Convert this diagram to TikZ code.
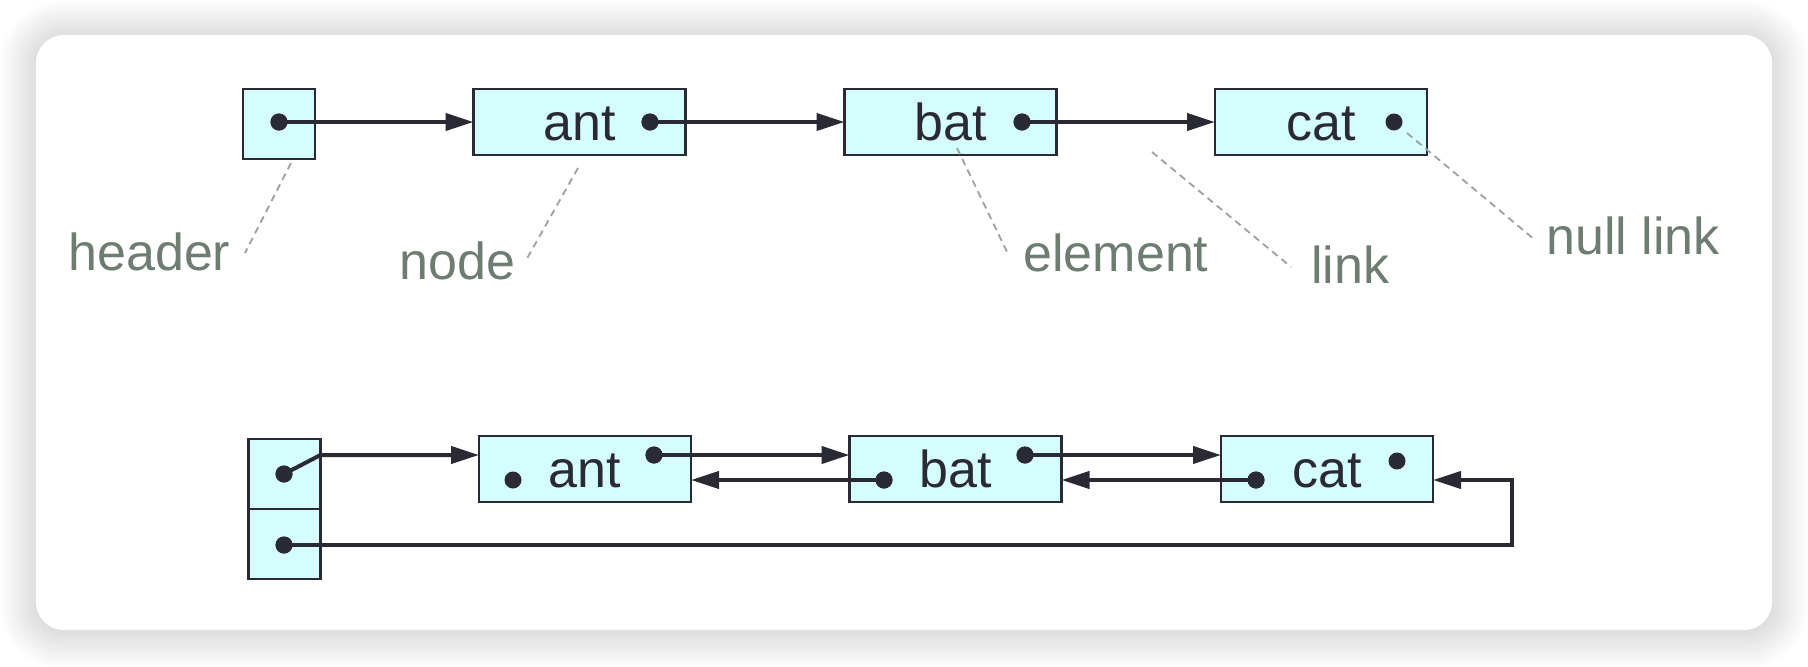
\documentclass[tikz,border=0pt]{standalone}
\usepackage{fontspec}
\setmainfont{Liberation Sans}
\usetikzlibrary{arrows.meta,calc}
\definecolor{boxfill}{HTML}{D5FDFE}
\definecolor{ink}{HTML}{2A2A35}
\definecolor{lbl}{HTML}{6E7D72}
\definecolor{dashc}{HTML}{9AA39E}
\begin{document}
\begin{tikzpicture}[x=0.5pt,y=-0.5pt,
 cell/.style={draw=ink, fill=boxfill, line width=1.3pt, inner sep=0pt, outer sep=0pt, rectangle},
 wide/.style={cell, minimum width=106pt, minimum height=33pt},
 hcell/.style={cell, minimum width=36pt, minimum height=35pt},
 dot/.style={circle, fill=ink, inner sep=0pt, outer sep=0pt, minimum size=8.5pt},
 link/.style={draw=ink, line width=2pt, -{Triangle[length=14pt,width=8.5pt]}},
 plain/.style={draw=ink, line width=2pt},
 word/.style={anchor=base, text=ink, font=\fontsize{26}{30}\selectfont, inner sep=0pt},
 note/.style={anchor=base west, text=lbl, font=\fontsize{26}{30}\selectfont, inner sep=0pt},
 leader/.style={draw=dashc, line width=0.9pt, dash pattern=on 3.5pt off 2.5pt}]
\useasboundingbox (0,0) rectangle (1808,666);
\fill[white] (0,0) rectangle (1808,666);
% shadow
\foreach \i in {1,...,16}{
  \pgfmathsetmacro\d{\i*2.3}
  \pgfmathsetmacro\r{(28+\d)*0.5}
  \fill[black, opacity=0.008, rounded corners=\r pt] (36-\d,35-\d+2) rectangle (1772+\d,630+\d+2);
}
\fill[white, rounded corners=14pt] (36,35) rectangle (1772,630) node[coordinate] (card) {};

% ---------- top list ----------
\node[hcell] (h1) at (279,124) {};
\node[wide] (ant1) at (579.5,122) {};
\node[wide] (bat1) at (950.5,122) {};
\node[wide] (cat1) at (1321,122) {};
\node[word] (ta1) at (579.5,140) {ant};
\node[word] (tb1) at (950.5,140) {bat};
\node[word] (tc1) at (1321,140) {cat};
\node[dot] (hd1) at (279,122) {};
\node[dot] (ad1) at (650,122) {};
\node[dot] (bd1) at (1022,122) {};
\node[dot] (cd1) at (1394,122) {};
\draw[link] (hd1.center) -- (ant1.west);
\draw[link] (ad1.center) -- (bat1.west);
\draw[link] (bd1.center) -- (cat1.west);

% labels
\node[note] (lh) at (68,270) {header};
\node[note] (ln) at (399,279) {node};
\node[note] (le) at (1023,271) {element};
\node[note] (ll) at (1311,283) {link};
\node[note] (lnl) at (1546,254) {null link};
\coordinate (q1a) at (291,163); \coordinate (q1b) at (245,253);
\coordinate (q2a) at (578,168); \coordinate (q2b) at (525,262);
\coordinate (q3a) at (957,148); \coordinate (q3b) at (1009,256);
\coordinate (q4a) at (1152,152); \coordinate (q4b) at (1291,267);
\coordinate (q5a) at (1407,133); \coordinate (q5b) at (1535,240);
\draw[leader] (q1a) -- (q1b);
\draw[leader] (q2a) -- (q2b);
\draw[leader] (q3a) -- (q3b);
\draw[leader] (q4a) -- (q4b);
\draw[leader] (q5a) -- (q5b);

% ---------- bottom list ----------
\node[hcell] (h2a) at (284.5,474) {};
\node[hcell] (h2b) at (284.5,544) {};
\node[wide] (ant2) at (585,469) {};
\node[wide] (bat2) at (955.5,469) {};
\node[wide] (cat2) at (1327,469) {};
\node[word] (ta2) at (585,487) {ant};
\node[word] (tb2) at (955.5,487) {bat};
\node[word] (tc2) at (1327,487) {cat};
\node[dot] (hda) at (284,474) {};
\node[dot] (hdb) at (284,545) {};
\node[dot] (al2) at (513,480) {};
\node[dot] (ar2) at (654,455) {};
\node[dot] (bl2) at (884,480) {};
\node[dot] (br2) at (1025,455) {};
\node[dot] (cl2) at (1256,480) {};
\node[dot] (cr2) at (1397,461) {};
\coordinate (ret) at (1512,545);
\draw[link] (hda.center) -- (h2a.east |- ar2) -- (ant2.west |- ar2);
\draw[link] (ar2.center) -- (bat2.west |- ar2);
\draw[link] (br2.center) -- (cat2.west |- br2);
\draw[link] (bl2.center) -- (ant2.east |- bl2);
\draw[link] (cl2.center) -- (bat2.east |- cl2);
\draw[link] (hdb.center) -- (ret) -- (ret |- cl2) -- (cat2.east |- cl2);
% redraw dots on top
\foreach \n in {hda,hdb,ar2,bl2,br2,cl2,hd1,ad1,bd1}{\fill[ink] (\n) circle (4.25pt);}
\end{tikzpicture}
\end{document}
